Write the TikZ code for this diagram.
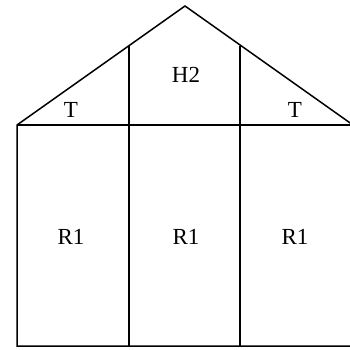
\documentclass[tikz,border=0pt]{standalone}
\usepackage{fontspec}
\setmainfont{Liberation Serif}
\tikzset{
  wall/.style={draw, line width=1.5pt, line join=miter},
  lbl/.style={font=\fontsize{23}{23}\selectfont, inner sep=0pt}
}
\begin{document}
\begin{tikzpicture}[x=1pt, y=-1pt]
\useasboundingbox (0,0) rectangle (350,350);
\clip (0,0) rectangle (350,350);
% corners of the house
\coordinate (apex) at (185,6);
\coordinate (eaveL) at (17,125);
\coordinate (eaveR) at (353,125);
\coordinate (footL) at (17,346);
\coordinate (footR) at (353,346);
\coordinate (roofA) at (129,45.7);
\coordinate (roofB) at (240,45.6);
% outline
\draw[wall] (eaveL) -- (apex) -- (eaveR) -- (footR) -- (footL) -- cycle;
\draw[wall] (eaveL) -- (eaveR);
\draw[wall] (roofA) -- (roofA |- footL);
\draw[wall] (roofB) -- (roofB |- footL);
% labels
\node[lbl] (t1) at (71,110) {T};
\node[lbl] (h2) at (186,75) {H2};
\node[lbl] (t2) at (295,110) {T};
\node[lbl] (r1) at (71,237) {R1};
\node[lbl] (r2) at (186,237) {R1};
\node[lbl] (r3) at (295,237) {R1};
\end{tikzpicture}
\end{document}
